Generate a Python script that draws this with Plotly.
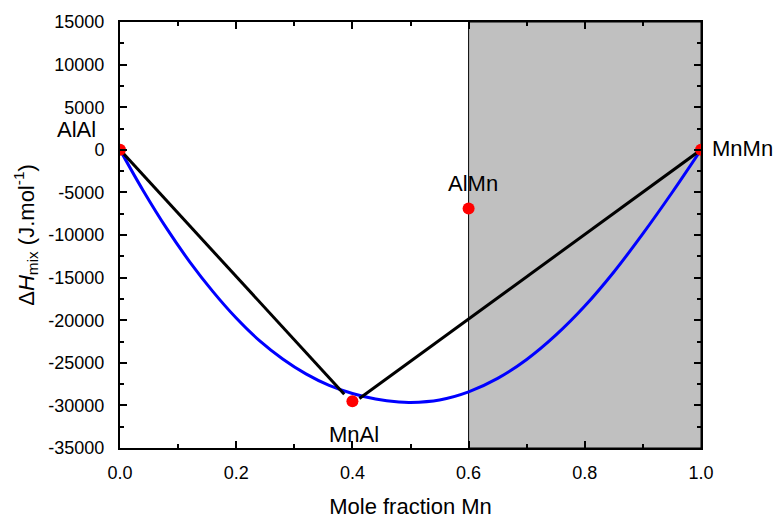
import plotly.graph_objects as go

# Blue curve (enthalpy of mixing)
curve_x = [0.0, 0.04, 0.08, 0.12, 0.16, 0.20, 0.24, 0.28, 0.32, 0.36, 0.40, 0.44,
           0.48, 0.50, 0.55, 0.60, 0.65, 0.70, 0.75, 0.80, 0.85, 0.90, 0.95, 1.0]
curve_y = [0, -4800, -9200, -13150, -16650, -19750, -22400, -24550, -26300, -27650,
           -28600, -29250, -29600, -29650, -29360, -28410, -26830, -24610, -21760,
           -18340, -14340, -9840, -5040, 0]

# Black tie lines
tie_left_x = [0.0, 0.386]
tie_left_y = [0, -28700]
tie_right_x = [0.412, 1.0]
tie_right_y = [-29200, 0]

# Red points and labels
pt_names = ["AlAl", "MnAl", "AlMn", "MnMn"]
pt_x = [0.0, 0.4, 0.6, 1.0]
pt_y = [0, -29500, -6900, 0]

# Shaded region
shade_x = [0.6, 1.0]

# Tick labels
x_ticks = [0.0, 0.2, 0.4, 0.6, 0.8, 1.0]
x_ticktext = ["0.0", "0.2", "0.4", "0.6", "0.8", "1.0"]
y_ticks = [15000, 10000, 5000, 0, -5000, -10000, -15000, -20000, -25000, -30000, -35000]
y_ticktext = ["15000", "10000", "5000", "0", "-5000", "-10000", "-15000", "-20000",
              "-25000", "-30000", "-35000"]

FONT = "Liberation Sans, Arial, sans-serif"

fig = go.Figure()
fig.add_trace(go.Scatter(x=curve_x, y=curve_y, mode="lines",
                         line=dict(color="#0000ff", width=3, shape="spline", smoothing=1.0),
                         hoverinfo="skip"))
fig.add_trace(go.Scatter(x=tie_left_x, y=tie_left_y, mode="lines",
                         line=dict(color="black", width=3)))
fig.add_trace(go.Scatter(x=tie_right_x, y=tie_right_y, mode="lines",
                         line=dict(color="black", width=3)))
fig.add_trace(go.Scatter(x=pt_x, y=pt_y, mode="markers",
                         marker=dict(color="red", size=12), text=pt_names))

fig.add_shape(type="rect", xref="x", yref="paper", x0=shade_x[0], x1=shade_x[1],
              y0=0, y1=1, fillcolor="#c0c0c0", line=dict(color="black", width=1),
              layer="below")

label_font = dict(family=FONT, size=22, color="black")
fig.add_annotation(xref="paper", yref="paper", x=-0.075, y=(2400 + 35000) / 50000,
                   xanchor="center", yanchor="middle",
                   text=pt_names[0], showarrow=False, font=label_font)
fig.add_annotation(x=0.403, y=-33400, text=pt_names[1], showarrow=False, font=label_font,
                   xanchor="center", yanchor="middle")
fig.add_annotation(x=0.607, y=-4000, text=pt_names[2], showarrow=False, font=label_font,
                   xanchor="center", yanchor="middle")
fig.add_annotation(xref="paper", yref="paper", x=1.0155, y=(150 + 35000) / 50000,
                   text=pt_names[3], showarrow=False, font=label_font,
                   xanchor="left", yanchor="middle")

axis_common = dict(
    showline=True, linecolor="black", linewidth=2, mirror="allticks",
    ticks="inside", ticklen=7, tickwidth=2, tickcolor="black",
    showgrid=False, zeroline=False, automargin=False,
    tickfont=dict(family=FONT, size=18, color="black"),
)

fig.update_xaxes(range=[0, 1], tickvals=x_ticks, ticktext=x_ticktext, ticklabelstandoff=7,
                 minor=dict(dtick=0.1, ticks="inside", ticklen=4, tickwidth=2, tickcolor="black"),
                 title=dict(text="Mole fraction Mn", standoff=17,
                            font=dict(family=FONT, size=22, color="black")),
                 **axis_common)
fig.update_yaxes(range=[-35000, 15000], tickvals=y_ticks, ticktext=y_ticktext,
                 ticklabelstandoff=10,
                 minor=dict(dtick=2500, ticks="inside", ticklen=4, tickwidth=2, tickcolor="black"),
                 title=dict(text="Δ<i>H</i><sub>mix</sub> (J.mol<sup>-1</sup>)", standoff=8,
                            font=dict(family=FONT, size=22, color="black")),
                 **axis_common)

fig.update_layout(
    width=776, height=519,
    margin=dict(l=120, r=75, t=22, b=71),
    plot_bgcolor="white", paper_bgcolor="white",
    showlegend=False,
)

# Remove the page's default body margin so the figure fills the window exactly.
fig.write_html("out.html", config={"displayModeBar": False},
               post_script="document.body.style.margin='0';document.body.style.overflow='hidden';")
